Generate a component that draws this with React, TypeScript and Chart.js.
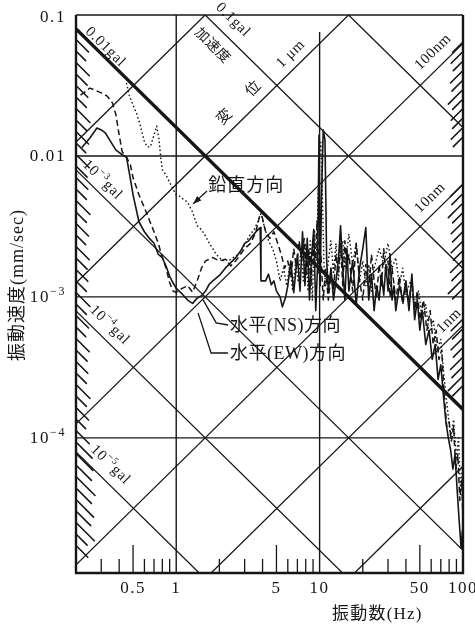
import React, { useEffect, useRef } from 'react';
import { Chart, registerables } from 'chart.js';

Chart.register(...registerables);

// ---------- axis ranges ----------
const freqMin = 0.2;
const freqMax = 100;
const velMin = 1.1e-5;
const velMax = 0.1;

// ---------- tick labels ----------
const xLabelValues = [0.5, 1, 5, 10, 50, 100];
const xLabelTexts = ['0.5', '1', '5', '10', '50', '100'];
const yLabelValues = [0.1, 0.01, 0.001, 0.0001];
const yLabelBase = ['0.1', '0.01', '10', '10'];
const yLabelExp = ['', '', '−3', '−4'];
const xMinorTicks = [0.3, 0.4, 0.6, 0.7, 0.8, 0.9, 2, 3, 4, 6, 7, 8, 9, 20, 30, 40, 60, 70, 80, 90];
const xMajorTicks = [0.5, 5, 50];
const hGridValues = [0.01, 0.001, 0.0001];
const vGridValues = [1, 10];

// ---------- tripartite lines ----------
const accelLinesGal = [1, 0.1, 0.01, 0.001, 0.0001, 0.00001];
const accelThickGal = 0.01;
const dispLinesMm = [0.01, 0.001, 0.0001, 0.00001, 0.000001, 0.0000001];

const galLabelBase = ['0.01', '0.1', '10', '10', '10'];
const galLabelExp = ['', '', '−3', '−4', '−5'];
const galLabelFreq = [0.321, 2.49, 0.306, 0.343, 0.348];
const galLabelVel = [0.0593, 0.0922, 0.00676, 0.000632, 0.0000644];

const dispLabelText = ['1 μm', '100nm', '10nm', '1nm'];
const dispLabelFreq = [6.29, 61.9, 59, 80];
const dispLabelVel = [0.0528, 0.0547, 0.00504, 0.000676];

// ---------- measured spectra [Hz, mm/sec] ----------
const ewSeries: [number, number][] = [
  [0.22, 0.0115], [0.25, 0.0134], [0.28, 0.0158], [0.3, 0.0153], [0.32, 0.0146], [0.35, 0.0126],
  [0.38, 0.011], [0.42, 0.0102], [0.45, 0.0098], [0.48, 0.0068], [0.5, 0.0053], [0.55, 0.0034],
  [0.6, 0.0029], [0.65, 0.0026], [0.7, 0.0024], [0.75, 0.002], [0.8, 0.0019], [0.85, 0.00165],
  [0.9, 0.0014], [0.95, 0.00126], [1.0, 0.00115], [1.1, 0.00105], [1.2, 0.00095], [1.3, 0.0009],
  [1.4, 0.00098], [1.5, 0.00102], [1.6, 0.0011], [1.7, 0.00123], [1.8, 0.0013], [2.0, 0.00142],
  [2.2, 0.0016], [2.4, 0.00175], [2.6, 0.0019], [2.8, 0.0021], [3.0, 0.0024], [3.2, 0.0025],
  [3.4, 0.0027], [3.6, 0.0029], [3.85, 0.0031], [3.9, 0.0013], [4.2, 0.0013], [4.4, 0.00145],
  [4.6, 0.00122], [4.8, 0.0013], [5.0, 0.0011], [5.3, 0.001], [5.5, 0.00085], [5.8, 0.001],
  [6.0, 0.0012], [6.3, 0.0018], [6.6, 0.00107], [7.0, 0.002], [7.3, 0.0011], [7.6, 0.0029],
  [7.9, 0.0012], [8.2, 0.0026], [8.5, 0.00095], [8.8, 0.002], [9.1, 0.003], [9.4, 0.0008],
  [9.7, 0.0018], [9.9, 0.014], [10.1, 0.0012], [10.3, 0.0049], [10.6, 0.0153], [10.9, 0.013],
  [11.2, 0.0018], [11.5, 0.0011], [12, 0.0016], [12.5, 0.00095], [13, 0.0013], [13.5, 0.0018],
  [14, 0.0032], [14.5, 0.0016], [15, 0.00095], [15.5, 0.0022], [16, 0.0011], [17, 0.0018],
  [18, 0.00088], [19, 0.0016], [20, 0.0022], [21, 0.0031], [22, 0.00095], [23, 0.00145],
  [24, 0.0008], [25, 0.0012], [26, 0.00095], [27, 0.00145], [28, 0.00103], [29, 0.0017],
  [30, 0.0011], [31, 0.002], [32, 0.00095], [33, 0.0012], [34, 0.0008], [36, 0.0012],
  [38, 0.00095], [40, 0.0013], [42, 0.0008], [44, 0.00145], [46, 0.00069], [48, 0.00095],
  [50, 0.00058], [52, 0.0008], [55, 0.00046], [58, 0.00058], [61, 0.00036], [64, 0.00046],
  [67, 0.00026], [70, 0.00033], [73, 0.0002], [76, 0.00013], [79, 0.0001], [82, 0.000082],
  [85, 0.00006], [88, 0.000076], [91, 0.000043], [94, 0.000026], [97, 0.0000165], [99, 0.000022],
];

const nsSeries: [number, number][] = [
  [0.215, 0.027], [0.23, 0.0284], [0.25, 0.0303], [0.27, 0.0294], [0.3, 0.028], [0.33, 0.0266],
  [0.36, 0.0237], [0.38, 0.0195], [0.4, 0.0141], [0.42, 0.0107], [0.45, 0.0098], [0.48, 0.0086],
  [0.5, 0.007], [0.55, 0.0053], [0.6, 0.0043], [0.65, 0.0035], [0.7, 0.0029], [0.75, 0.0024],
  [0.8, 0.0019], [0.85, 0.0016], [0.9, 0.00126], [0.95, 0.0011], [1.0, 0.00108], [1.1, 0.00115],
  [1.2, 0.0012], [1.3, 0.00108], [1.4, 0.0013], [1.5, 0.0016], [1.6, 0.0018], [1.8, 0.0019],
  [2.0, 0.0018], [2.2, 0.00185], [2.4, 0.00166], [2.6, 0.0018], [2.8, 0.002], [3.0, 0.0022],
  [3.3, 0.0024], [3.6, 0.0029], [3.8, 0.0037], [3.95, 0.0038], [4.2, 0.0029], [4.5, 0.0026],
  [4.8, 0.0029], [5.1, 0.0024], [5.4, 0.002], [5.7, 0.0016], [6.0, 0.0018], [6.3, 0.00137],
  [6.6, 0.0022], [6.9, 0.0016], [7.2, 0.0025], [7.5, 0.0018], [7.8, 0.0026], [8.1, 0.00145],
  [8.4, 0.0022], [8.7, 0.0012], [9.0, 0.0024], [9.3, 0.0016], [9.6, 0.0035], [9.9, 0.00145],
  [10.2, 0.002], [10.6, 0.00095], [11, 0.0016], [11.5, 0.00095], [12, 0.00145], [12.5, 0.0011],
  [13, 0.002], [13.5, 0.00145], [14, 0.0024], [14.5, 0.0012], [15, 0.0025], [15.5, 0.0016],
  [16, 0.002], [17, 0.0011], [18, 0.0024], [19, 0.0013], [20, 0.00095], [21, 0.0017],
  [22, 0.0011], [23, 0.002], [24, 0.0013], [25, 0.001], [26, 0.0017], [27, 0.0012],
  [28, 0.0022], [29, 0.00145], [30, 0.0018], [31, 0.001], [32, 0.0016], [34, 0.00095],
  [36, 0.0014], [38, 0.00088], [40, 0.0012], [42, 0.00095], [44, 0.0013], [46, 0.0008],
  [48, 0.0011], [50, 0.00069], [53, 0.00095], [56, 0.00058], [59, 0.0008], [62, 0.00046],
  [65, 0.00058], [68, 0.00036], [71, 0.00042], [74, 0.0002], [77, 0.00012], [80, 0.00013],
  [83, 0.000095], [86, 0.00012], [89, 0.00006], [92, 0.000076], [95, 0.000036], [98, 0.00005],
  [100, 0.000026],
];

const verticalSeries: [number, number][] = [
  [0.45, 0.033], [0.47, 0.027], [0.5, 0.023], [0.53, 0.02], [0.56, 0.0166], [0.6, 0.0126],
  [0.63, 0.0116], [0.66, 0.0116], [0.7, 0.0141], [0.73, 0.0163], [0.76, 0.013], [0.78, 0.0097],
  [0.8, 0.008], [0.85, 0.0073], [0.9, 0.0065], [0.95, 0.0058], [1.0, 0.0053], [1.05, 0.0052],
  [1.1, 0.005], [1.2, 0.0047], [1.3, 0.004], [1.4, 0.0032], [1.5, 0.003], [1.6, 0.0027],
  [1.7, 0.0024], [1.8, 0.0022], [1.9, 0.002], [2.0, 0.0019], [2.1, 0.0018], [2.2, 0.00185],
  [2.3, 0.0018], [2.5, 0.0019], [2.7, 0.002], [2.9, 0.0022], [3.1, 0.0025], [3.3, 0.0028],
  [3.5, 0.003], [3.7, 0.0034], [3.9, 0.0039], [4.1, 0.0032], [4.4, 0.0025], [4.7, 0.0022],
  [5.0, 0.0018], [5.3, 0.0013], [5.6, 0.0016], [5.9, 0.0012], [6.2, 0.0017], [6.5, 0.0011],
  [6.8, 0.0018], [7.1, 0.00127], [7.4, 0.0022], [7.7, 0.0013], [8.0, 0.0024], [8.3, 0.0011],
  [8.6, 0.0025], [8.9, 0.00095], [9.2, 0.003], [9.5, 0.0018], [9.8, 0.0057], [10.0, 0.0105],
  [10.2, 0.0125], [10.4, 0.0067], [10.7, 0.0018], [11, 0.0012], [11.5, 0.0018], [12, 0.0025],
  [12.5, 0.00145], [13, 0.0024], [13.5, 0.0013], [14, 0.0022], [14.5, 0.0025], [15, 0.0016],
  [16, 0.0028], [17, 0.0017], [18, 0.0024], [19, 0.0013], [20, 0.0018], [21, 0.0012],
  [22, 0.0017], [23, 0.0011], [24, 0.0016], [26, 0.0022], [28, 0.0017], [30, 0.0024],
  [32, 0.0016], [34, 0.0019], [36, 0.0012], [38, 0.0016], [40, 0.00103], [43, 0.0013],
  [46, 0.00088], [49, 0.0011], [52, 0.00069], [55, 0.00088], [58, 0.00054], [62, 0.00069],
  [66, 0.00042], [70, 0.0005], [74, 0.00026], [78, 0.00016], [82, 0.0001], [86, 0.000135],
  [90, 0.00007], [93, 0.0001], [96, 0.000043], [99, 0.00006],
];

// ---------- annotation anchors [Hz, mm/sec] ----------
const verticalLabelAt: [number, number] = [1.67, 0.00612];
const verticalArrow: [number, number][] = [[1.64, 0.00565], [1.31, 0.00457]];
const nsLabelAt: [number, number] = [2.37, 0.000622];
const nsLeader: [number, number][] = [[1.54, 0.000953], [1.9, 0.000655], [2.3, 0.000632]];
const ewLabelAt: [number, number] = [2.37, 0.000394];
const ewLeader: [number, number][] = [[1.42, 0.00077], [1.75, 0.0004], [2.3, 0.0004]];
const accelWordAt: [number, number] = [1.78, 0.0603];
const dispWordAt: [number, number] = [2.83, 0.0244];

const INK = '#161616';
const SERIF = "'Liberation Serif', 'DejaVu Serif', serif";
const MIXED = "'Liberation Serif', 'Noto Sans CJK JP', serif";

type Part = { t: string; sup?: boolean };

function drawRich(
  ctx: CanvasRenderingContext2D,
  parts: Part[],
  size: number,
  family: string,
  cx: number,
  cy: number,
  align: 'left' | 'center' | 'right',
  spacing: number,
) {
  (ctx as any).letterSpacing = spacing + 'px';
  const fonts = parts.map((p) => `${p.sup ? Math.round(size * 0.68) : size}px ${family}`);
  const widths = parts.map((p, i) => {
    ctx.font = fonts[i];
    return ctx.measureText(p.t).width;
  });
  const total = widths.reduce((a, b) => a + b, 0);
  let x0 = align === 'center' ? cx - total / 2 : align === 'right' ? cx - total : cx;
  ctx.textAlign = 'left';
  ctx.textBaseline = 'middle';
  parts.forEach((p, i) => {
    ctx.font = fonts[i];
    ctx.fillText(p.t, x0, p.sup ? cy - size * 0.36 : cy);
    x0 += widths[i];
  });
  (ctx as any).letterSpacing = '0px';
}

function strokeHatch(ctx: CanvasRenderingContext2D, x0: number, y0: number, dx: number, dy: number) {
  ctx.beginPath();
  ctx.moveTo(x0, y0);
  ctx.lineTo(x0 + dx, y0 + dy);
  ctx.stroke();
}

const tripartitePlugin = {
  id: 'tripartite',
  beforeDatasetsDraw(chart: any) {
    const { ctx, chartArea: a, scales } = chart;
    const xs = scales.x;
    const ys = scales.y;
    const px = (f: number) => xs.getPixelForValue(f);
    const py = (v: number) => ys.getPixelForValue(v);
    ctx.save();
    ctx.beginPath();
    ctx.rect(a.left, a.top, a.right - a.left, a.bottom - a.top);
    ctx.clip();
    ctx.strokeStyle = INK;
    ctx.lineCap = 'butt';

    ctx.lineWidth = 1.4;
    hGridValues.forEach((v) => {
      const yv = py(v);
      ctx.beginPath();
      ctx.moveTo(a.left, yv);
      ctx.lineTo(a.right, yv);
      ctx.stroke();
    });
    vGridValues.forEach((f, i) => {
      const xv = px(f);
      ctx.beginPath();
      ctx.moveTo(xv, a.top + (i === 1 ? 17 : 0));
      ctx.lineTo(xv, a.bottom);
      ctx.stroke();
    });

    ctx.lineWidth = 1.3;
    accelLinesGal.forEach((g) => {
      if (g === accelThickGal) return;
      const vAt = (f: number) => (g * 10) / (2 * Math.PI * f);
      ctx.beginPath();
      ctx.moveTo(px(freqMin), py(vAt(freqMin)));
      ctx.lineTo(px(freqMax), py(vAt(freqMax)));
      ctx.stroke();
    });
    dispLinesMm.forEach((d) => {
      const vAt = (f: number) => 2 * Math.PI * f * d;
      ctx.beginPath();
      ctx.moveTo(px(freqMin), py(vAt(freqMin)));
      ctx.lineTo(px(freqMax), py(vAt(freqMax)));
      ctx.stroke();
    });

    ctx.lineWidth = 1.3;
    xMinorTicks.forEach((f) => {
      const xv = px(f);
      ctx.beginPath();
      ctx.moveTo(xv, a.bottom);
      ctx.lineTo(xv, a.bottom - 14);
      ctx.stroke();
    });
    xMajorTicks.forEach((f) => {
      const xv = px(f);
      ctx.beginPath();
      ctx.moveTo(xv, a.bottom);
      ctx.lineTo(xv, a.bottom - 28);
      ctx.stroke();
    });
    ctx.restore();
  },
  afterDatasetsDraw(chart: any) {
    const { ctx, chartArea: a, scales } = chart;
    const xs = scales.x;
    const ys = scales.y;
    const px = (f: number) => xs.getPixelForValue(f);
    const py = (v: number) => ys.getPixelForValue(v);
    ctx.save();
    ctx.strokeStyle = INK;
    ctx.fillStyle = INK;

    // thick 0.01 gal line
    ctx.save();
    ctx.beginPath();
    ctx.rect(a.left, a.top, a.right - a.left, a.bottom - a.top);
    ctx.clip();
    ctx.lineWidth = 3.4;
    const vThick = (f: number) => (accelThickGal * 10) / (2 * Math.PI * f);
    ctx.beginPath();
    ctx.moveTo(px(freqMin), py(vThick(freqMin)));
    ctx.lineTo(px(freqMax), py(vThick(freqMax)));
    ctx.stroke();
    ctx.restore();

    // frame
    ctx.lineWidth = 1.6;
    ctx.beginPath();
    ctx.moveTo(a.left, a.top);
    ctx.lineTo(a.right, a.top);
    ctx.stroke();
    ctx.lineWidth = 2.4;
    ctx.beginPath();
    ctx.moveTo(a.left, a.top);
    ctx.lineTo(a.left, a.bottom);
    ctx.lineTo(a.right, a.bottom);
    ctx.lineTo(a.right, a.top);
    ctx.stroke();

    // hatching along the left edge
    ctx.lineWidth = 1.6;
    ctx.lineCap = 'round';
    const leftLens = [13, 16, 12, 17, 14, 15, 13, 18];
    const plotH = a.bottom - a.top;
    let k = 0;
    for (let off = 14; off < plotH - 16; off += 11.5) {
      const extra = off > 420 && off < 520 ? 7 : 0;
      const L = leftLens[k % leftLens.length] + extra;
      strokeHatch(ctx, a.left + 1, a.top + off, L * 0.72, L * 0.72);
      k++;
    }
    // hatching along the right edge, in three bands
    const bandStart = [28, 170, 305];
    const bandEnd = [132, 275, 380];
    const rightLens = [13, 15, 12, 16, 14, 19, 13, 15];
    k = 0;
    for (let b = 0; b < bandStart.length; b++) {
      for (let off = bandStart[b]; off < bandEnd[b]; off += 9.5) {
        const L = rightLens[k % rightLens.length];
        strokeHatch(ctx, a.right - 1, a.top + off, -L * 0.72, L * 0.72);
        k++;
      }
    }
    ctx.lineCap = 'butt';

    const angAccel = Math.atan2(py(0.001) - py(0.01), px(10) - px(1));
    const angDisp = -angAccel;

    galLabelBase.forEach((b, i) => {
      ctx.save();
      ctx.translate(px(galLabelFreq[i]), py(galLabelVel[i]));
      ctx.rotate(angAccel);
      const parts: Part[] = galLabelExp[i]
        ? [{ t: b }, { t: galLabelExp[i], sup: true }, { t: 'gal' }]
        : [{ t: b + 'gal' }];
      drawRich(ctx, parts, 15, SERIF, 0, 0, 'center', 0.8);
      ctx.restore();
    });
    dispLabelText.forEach((t, i) => {
      ctx.save();
      ctx.translate(px(dispLabelFreq[i]), py(dispLabelVel[i]));
      ctx.rotate(angDisp);
      drawRich(ctx, [{ t }], 15, SERIF, 0, 0, 'center', 0.6);
      ctx.restore();
    });
    ctx.save();
    ctx.translate(px(accelWordAt[0]), py(accelWordAt[1]));
    ctx.rotate(angAccel);
    drawRich(ctx, [{ t: '加速度' }], 14, MIXED, 0, 0, 'center', 0.5);
    ctx.restore();
    ctx.save();
    ctx.translate(px(dispWordAt[0]), py(dispWordAt[1]));
    ctx.rotate(angDisp);
    drawRich(ctx, [{ t: '変　位' }], 15, MIXED, 0, 0, 'center', 5);
    ctx.restore();

    drawRich(ctx, [{ t: '鉛直方向' }], 18, MIXED, px(verticalLabelAt[0]), py(verticalLabelAt[1]), 'left', 1);
    drawRich(ctx, [{ t: '水平(NS)方向' }], 18, MIXED, px(nsLabelAt[0]), py(nsLabelAt[1]), 'left', 0.5);
    drawRich(ctx, [{ t: '水平(EW)方向' }], 18, MIXED, px(ewLabelAt[0]), py(ewLabelAt[1]), 'left', 0.5);

    ctx.lineWidth = 1.3;
    [nsLeader, ewLeader].forEach((pts) => {
      ctx.beginPath();
      pts.forEach(([f, v], i) => {
        if (i === 0) ctx.moveTo(px(f), py(v));
        else ctx.lineTo(px(f), py(v));
      });
      ctx.stroke();
    });
    const ax0 = px(verticalArrow[0][0]);
    const ay0 = py(verticalArrow[0][1]);
    const ax1 = px(verticalArrow[1][0]);
    const ay1 = py(verticalArrow[1][1]);
    ctx.beginPath();
    ctx.moveTo(ax0, ay0);
    ctx.lineTo(ax1, ay1);
    ctx.stroke();
    const ang = Math.atan2(ay1 - ay0, ax1 - ax0);
    ctx.beginPath();
    ctx.moveTo(ax1, ay1);
    ctx.lineTo(ax1 - 9 * Math.cos(ang - 0.35), ay1 - 9 * Math.sin(ang - 0.35));
    ctx.lineTo(ax1 - 9 * Math.cos(ang + 0.35), ay1 - 9 * Math.sin(ang + 0.35));
    ctx.closePath();
    ctx.fill();

    xLabelValues.forEach((f, i) => {
      drawRich(ctx, [{ t: xLabelTexts[i] }], 17, SERIF, px(f), a.bottom + 16, 'center', 1.5);
    });
    yLabelValues.forEach((v, i) => {
      const parts: Part[] = yLabelExp[i] ? [{ t: yLabelBase[i] }, { t: yLabelExp[i], sup: true }] : [{ t: yLabelBase[i] }];
      drawRich(ctx, parts, 17, SERIF, a.left - 10, py(v) + (i === 0 ? 3 : 1), 'right', 1.6);
    });

    drawRich(ctx, [{ t: '振動数(Hz)' }], 17, MIXED, (px(10) + px(100)) / 2 - 14, a.bottom + 42, 'center', 1.2);
    ctx.save();
    ctx.translate(18, (a.top + a.bottom) / 2 - 9);
    ctx.rotate(-Math.PI / 2);
    drawRich(ctx, [{ t: '振動速度(mm/sec)' }], 18, MIXED, 0, 0, 'center', 1);
    ctx.restore();

    ctx.restore();
  },
};

export default function App() {
  const ref = useRef<HTMLCanvasElement>(null);
  useEffect(() => {
    const canvas = ref.current;
    if (!canvas) return;
    const toPts = (s: [number, number][]) => s.map(([f, v]) => ({ x: f, y: v }));
    const chart = new Chart(canvas, {
      type: 'scatter',
      data: {
        datasets: [
          {
            label: '水平(EW)方向',
            data: toPts(ewSeries),
            showLine: true,
            borderColor: INK,
            borderWidth: 1.6,
            pointRadius: 0,
            borderJoinStyle: 'round',
          },
          {
            label: '水平(NS)方向',
            data: toPts(nsSeries),
            showLine: true,
            borderColor: INK,
            borderWidth: 1.5,
            borderDash: [6, 3.5],
            pointRadius: 0,
            borderJoinStyle: 'round',
          },
          {
            label: '鉛直方向',
            data: toPts(verticalSeries),
            showLine: true,
            borderColor: INK,
            borderWidth: 1.4,
            borderDash: [1.6, 2.4],
            pointRadius: 0,
            borderJoinStyle: 'round',
          },
        ],
      } as any,
      options: {
        responsive: false,
        animation: false,
        devicePixelRatio: 1,
        layout: { padding: { left: 76, right: 12, top: 15, bottom: 54 } },
        plugins: { legend: { display: false }, tooltip: { enabled: false } },
        scales: {
          x: { type: 'logarithmic', min: freqMin, max: freqMax, display: false },
          y: { type: 'logarithmic', min: velMin, max: velMax, display: false },
        },
      } as any,
      plugins: [tripartitePlugin as any],
    });
    return () => chart.destroy();
  }, []);
  return (
    <div style={{ position: 'fixed', left: 0, top: 0, width: 475, height: 627, background: '#fff' }}>
      <canvas ref={ref} width={475} height={627} style={{ display: 'block', width: 475, height: 627 }} />
    </div>
  );
}
